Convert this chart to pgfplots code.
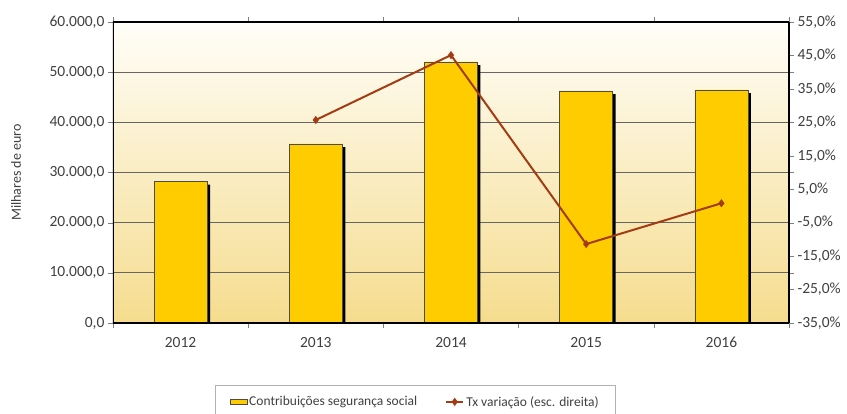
\documentclass[border=0pt]{standalone}
\usepackage{pgfplots}
\pgfplotsset{compat=1.18}
\usepackage{fontspec}
\setmainfont{Carlito}
\definecolor{barfill}{HTML}{FFCC00}
\definecolor{linecol}{HTML}{A23C14}
\definecolor{bgtop}{HTML}{FFFEF8}
\definecolor{bgbot}{HTML}{F5DC8E}
\definecolor{txt}{HTML}{404040}
\begin{document}
\begin{tikzpicture}
  \begin{axis}[
    at={(0,0)}, anchor=south west,
    scale only axis, width=676pt, height=301pt,
    xmin=-0.5, xmax=4.5, ymin=0, ymax=60000,
    ytick={0,10000,...,60000},
    xtick={0,...,4}, xticklabels={2012,2013,2014,2015,2016},
    major x tick style={draw=none},
    minor xtick={-0.5,0.5,...,4.5},
    minor tick length=5pt, major tick length=5pt,
    tick align=outside,
    ymajorgrids, grid style={gray!80!black, line width=0.8pt},
    axis background/.style={top color=bgtop, bottom color=bgbot},
    ylabel={Milhares de euro},
    every axis y label/.style={at={(rel axis cs:0,0.5)}, xshift=-97pt, rotate=90, anchor=center,
      font=\fontsize{14}{16}\selectfont, text=txt},
    tick label style={font=\fontsize{15.5}{17}\selectfont, text=txt},
    x tick label style={yshift=-6pt},
    /pgf/number format/.cd, fixed, fixed zerofill, precision=1, use comma, 1000 sep={.}, assume math mode=true,
    /pgfplots/.cd,
    scaled y ticks=false,
    ybar, bar width=53pt,
    legend style={at={(0.447,-0.206)}, anchor=north, legend columns=2,
      draw=gray!60, inner xsep=14pt, inner ysep=9pt,
      font=\fontsize{13.5}{15}\selectfont, text=txt,
      /tikz/every even column/.append style={column sep=26pt}},
  ]
    % sombra das barras
    \addplot[fill=black, draw=none, bar shift=3pt, forget plot]
      coordinates {(0,27566)(1,35081)(2,51427)(3,45646)(4,45845)};
    \addplot[fill=barfill, draw=black!70, line width=0.6pt, bar shift=0pt, area legend]
      coordinates {(0,28166)(1,35681)(2,52027)(3,46246)(4,46445)};
    \addlegendentry{Contribuições segurança social}
    \addlegendimage{line legend, sharp plot, linecol, line width=2pt, mark=diamond*, mark size=2.5pt}
    \addlegendentry{Tx variação (esc. direita)}
  \end{axis}
  \begin{axis}[
    at={(0,0)}, anchor=south west,
    scale only axis, width=676pt, height=301pt,
    xmin=-0.5, xmax=4.5, ymin=-35, ymax=55,
    axis x line=none, axis y line*=right,
    ytick={-35,-25,...,55},
    major tick length=5pt, tick align=outside,
    axis line style={black, line width=2.5pt},
    tick label style={font=\fontsize{15.5}{17}\selectfont, text=txt},
    yticklabel={\pgfmathprintnumber{\tick}\%},
    /pgf/number format/.cd, fixed, fixed zerofill, precision=1, use comma, assume math mode=true,
  ]
    \addplot[linecol, line width=2pt, mark=diamond*, mark size=2.5pt]
      coordinates {(1,25.7)(2,45.1)(3,-11.4)(4,0.8)};
    % moldura da área do gráfico
    \draw[black, line width=2.5pt] (rel axis cs:0,0) rectangle (rel axis cs:1,1);
  \end{axis}
  \pgfresetboundingbox
  \path (-113pt,-91pt) rectangle (734pt,323pt);
\end{tikzpicture}
\end{document}
